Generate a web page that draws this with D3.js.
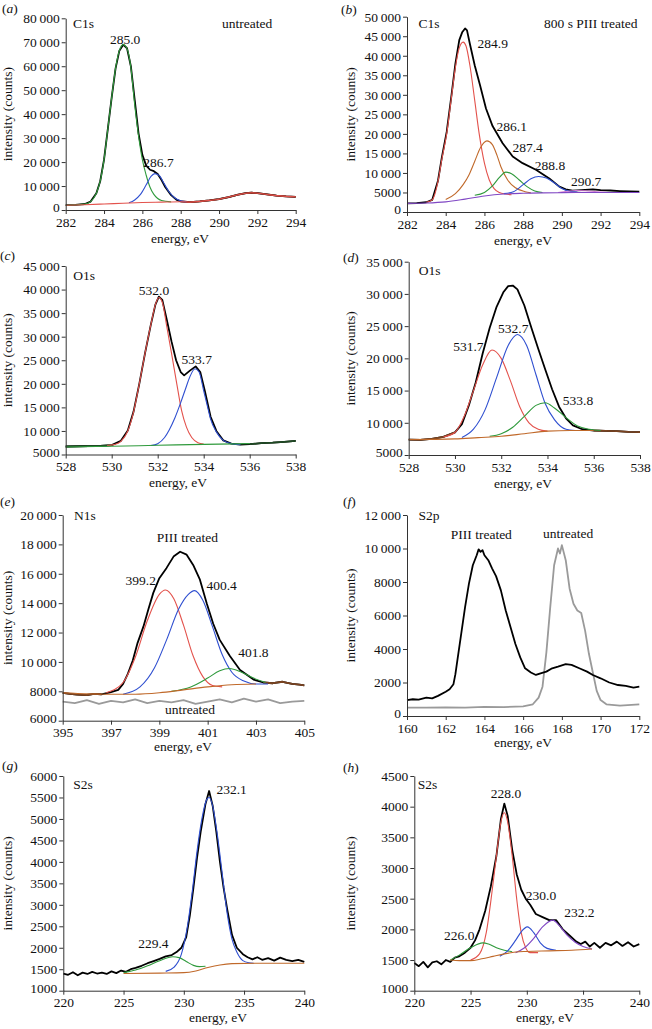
<!DOCTYPE html>
<html>
<head>
<meta charset="utf-8">
<script src="https://cdn.jsdelivr.net/npm/d3@7"></script>
<style>
body { margin: 0; background: #fff; }
svg text { font-family: "Liberation Serif", "Times New Roman", serif; font-size: 13.5px; fill: #111; }
</style>
</head>
<body>
<svg width="652" height="1029"></svg>
<script>
// ---- (a) C1s untreated ----
var aData = [[282,2000],[282.5,2150],[283,2500],[283.3,3500],[283.6,7000],[283.8,12000],[284,21000],[284.2,34000],[284.4,47000],[284.6,59000],[284.8,66500],[285,69000],[285.2,67500],[285.4,60000],[285.6,46000],[285.8,32000],[286,23000],[286.2,18500],[286.4,16800],[286.6,16200],[286.8,15000],[287,12500],[287.2,9500],[287.5,6200],[287.8,4200],[288,3600],[288.5,3300],[289,3600],[289.5,4000],[290,4500],[290.5,5400],[291,6400],[291.4,7000],[291.7,7200],[292,7000],[292.5,6500],[293,6000],[293.5,5700],[294,5500]];
var aPeak285 = [[282,2000],[283,2500],[283.3,3500],[283.6,7000],[283.8,12000],[284,21000],[284.2,34000],[284.4,47000],[284.6,59000],[284.8,66500],[285,69000],[285.2,67300],[285.4,59500],[285.6,44000],[285.8,31000],[286,21000],[286.2,14500],[286.4,9500],[286.6,6500],[286.8,4800],[287,4000],[287.5,3400]];
var aPeak287 = [[285.3,3000],[285.6,4200],[285.9,6500],[286.2,10500],[286.45,14000],[286.65,15200],[286.9,14200],[287.1,11500],[287.4,7500],[287.7,5000],[288,3800],[288.3,3400]];
var aBack = [[282,2000],[283,2200],[284,2500],[285,2800],[286,3100],[287,3300],[288,3450],[288.5,3300],[289,3600],[289.5,4000],[290,4500],[290.5,5400],[291,6400],[291.4,7000],[291.7,7200],[292,7000],[292.5,6500],[293,6000],[293.5,5700],[294,5500]];
var aXTicks = [282,284,286,288,290,292,294];
var aYTicks = [0,10000,20000,30000,40000,50000,60000,70000,80000];

// ---- (b) C1s 800 s PIII treated ----
var bData = [[282,2200],[282.5,2250],[283,2500],[283.3,3100],[283.6,8000],[283.8,14000],[284.05,20500],[284.3,30000],[284.5,38000],[284.7,44000],[284.85,46000],[285,47000],[285.1,46500],[285.25,43000],[285.5,37500],[285.77,32500],[286.08,26500],[286.42,22000],[286.94,17600],[287.46,14200],[287.97,12500],[288.66,10800],[289.35,8600],[289.87,6500],[290.2,5800],[290.55,5450],[291,5600],[291.6,5800],[292,5600],[292.5,5500],[293,5350],[293.5,5250],[294,5200]];
var bPeak2849 = [[283,2500],[283.3,3100],[283.6,7800],[283.8,13500],[284.05,20000],[284.3,29500],[284.5,37000],[284.7,42000],[284.9,43500],[285.05,42500],[285.25,37500],[285.5,28500],[285.73,20000],[286,12500],[286.25,8200],[286.5,6000],[286.77,5000],[287.1,4600],[287.4,4400]];
var bPeak2861 = [[284,3200],[284.5,4700],[284.9,7000],[285.2,9500],[285.5,13000],[285.8,16500],[286.13,18200],[286.4,17300],[286.65,14500],[286.85,11600],[287.2,8200],[287.6,6200],[288.1,5200],[288.4,4900]];
var bPeak2874 = [[285.5,4300],[286,5000],[286.4,6600],[286.8,9000],[287.1,10200],[287.4,9800],[287.8,8200],[288.2,6500],[288.6,5400],[289,5000]];
var bPeak2888 = [[287,4700],[287.5,5200],[288,7000],[288.4,8500],[288.8,9100],[289.2,8700],[289.6,7500],[290,6000],[290.4,5300],[290.8,5100]];
var bPeak2907 = [[289.8,5000],[290.3,5300],[290.7,5500],[291.2,5450],[291.8,5200],[292.3,5050]];
var bBack = [[282,2200],[283,2300],[284,2600],[285,3300],[286,4100],[287,4600],[288,4800],[289,4900],[290,4950],[292,5000],[294,5000]];
var bXTicks = [282,284,286,288,290,292,294];
var bYTicks = [0,5000,10000,15000,20000,25000,30000,35000,40000,45000,50000];

// ---- (c) O1s untreated ----
var cData = [[528,6700],[528.5,6750],[529,6800],[529.5,6850],[530,7000],[530.4,7900],[530.7,10100],[530.95,14100],[531.2,20000],[531.45,26500],[531.7,32500],[531.9,36800],[532.05,38500],[532.2,37800],[532.4,33500],[532.6,29000],[532.8,25000],[533,22500],[533.15,21800],[533.4,22800],[533.65,23700],[533.85,22500],[534.05,18500],[534.3,13000],[534.55,10000],[534.85,8000],[535.2,7300],[535.6,7100],[536,7200],[536.5,7400],[537,7500],[537.5,7700],[538,7900]];
var cPeak532 = [[529.8,6900],[530.1,7100],[530.4,7800],[530.7,10000],[530.95,14000],[531.2,20000],[531.45,26500],[531.7,32500],[531.9,36800],[532.05,38300],[532.2,37300],[532.4,32000],[532.6,26500],[532.83,20000],[533.04,14300],[533.25,10800],[533.48,8600],[533.75,7500],[534,7200]];
var cPeak5337 = [[531.7,6900],[532,7300],[532.3,8600],[532.5,10200],[532.75,12800],[533,16000],[533.2,18800],[533.4,21500],[533.62,23200],[533.8,22500],[534,18500],[534.15,15500],[534.3,12500],[534.55,9800],[534.85,8000],[535.3,7200],[535.6,7100]];
var cBack = [[528,6600],[530,6750],[532,6950],[534,7150],[536,7300]];
var cXTicks = [528,530,532,534,536,538];
var cYTicks = [5000,10000,15000,20000,25000,30000,35000,40000,45000];

// ---- (d) O1s treated ----
var dData = [[528,7400],[528.5,7350],[529,7500],[529.5,7800],[530,8500],[530.3,9800],[530.6,12700],[530.9,16300],[531.2,20800],[531.5,24700],[531.8,28000],[532.1,30300],[532.3,31200],[532.5,31300],[532.7,30700],[533,28200],[533.3,24800],[533.6,21500],[533.9,18300],[534.2,15200],[534.5,12500],[534.8,10700],[535.1,9600],[535.5,9000],[536,8800],[536.5,8750],[537,8700],[537.5,8600],[538,8550]];
var dPeak5317 = [[529.5,7800],[530,8500],[530.4,11000],[530.8,15000],[531.2,19000],[531.6,21300],[532,20000],[532.4,16500],[532.8,12500],[533.2,10000],[533.6,9000],[534,8700]];
var dPeak5327 = [[530.3,7700],[530.8,9000],[531.3,12000],[531.8,17000],[532.3,22000],[532.7,23700],[533.1,22000],[533.5,17500],[533.9,13000],[534.3,10500],[534.8,9000],[535.2,8800]];
var dPeak5338 = [[531.5,7900],[532,8300],[532.5,9300],[533,11000],[533.5,12700],[533.9,13100],[534.3,12300],[534.8,10800],[535.3,9500],[535.8,9000],[536.3,8800]];
var dBack = [[528,7400],[530,7500],[531,7700],[532,7900],[533,8300],[534,8700],[535,8800],[536,8800]];
var dXTicks = [528,530,532,534,536,538];
var dYTicks = [5000,10000,15000,20000,25000,30000,35000];

// ---- (e) N1s ----
var eData = [[395,7900],[395.3,7820],[395.6,7780],[396,7750],[396.3,7830],[396.6,7800],[397,7950],[397.3,8100],[397.5,8500],[397.7,9200],[397.9,10100],[398.1,11300],[398.34,12400],[398.55,13600],[398.75,14700],[399,15700],[399.3,16400],[399.6,17200],[399.86,17500],[400.13,17300],[400.4,16600],[400.68,15600],[400.96,14000],[401.23,12600],[401.5,11500],[401.92,10400],[402.34,9450],[402.9,8800],[403.3,8600],[403.7,8550],[404.1,8650],[404.5,8500],[404.8,8450],[405,8400]];
var ePeak3992 = [[396.8,7900],[397.5,8600],[398,10300],[398.5,12800],[399,14600],[399.25,14900],[399.6,14300],[400,12500],[400.4,10400],[400.8,9000],[401.2,8400],[401.6,8300]];
var ePeak4004 = [[397.5,7800],[398.2,8300],[398.8,9600],[399.3,11500],[399.8,13600],[400.2,14600],[400.45,14850],[400.8,14200],[401.2,12400],[401.6,10500],[402,9300],[402.5,8700],[403,8500],[403.5,8500]];
var ePeak4018 = [[399.5,8000],[400.3,8300],[401,8900],[401.5,9400],[401.9,9550],[402.4,9300],[402.9,8900],[403.4,8600]];
var eBack = [[395,7900],[397,7800],[398,7800],[399,7900],[400,8100],[401,8300],[402,8450],[403,8500]];
var eUntreated = [[395,7300],[395.5,7200],[396,7400],[396.5,7150],[397,7350],[397.5,7250],[398,7450],[398.5,7200],[399,7350],[399.5,7250],[400,7400],[400.5,7150],[401,7300],[401.5,7450],[402,7250],[402.5,7500],[403,7300],[403.5,7450],[404,7200],[404.5,7300],[405,7350]];
var eXTicks = [395,397,399,401,403,405];
var eYTicks = [6000,8000,10000,12000,14000,16000,18000,20000];

// ---- (f) S2p ----
var fTreated = [[160,950],[160.3,1000],[160.6,980],[161,1100],[161.3,1050],[161.6,1200],[162,1450],[162.2,1600],[162.4,1900],[162.5,2500],[162.6,3300],[162.8,4900],[163,6500],[163.2,7900],[163.4,9000],[163.6,9600],[163.7,9950],[163.8,9800],[163.9,9900],[164,9600],[164.2,9300],[164.4,8800],[164.6,8350],[164.85,7500],[165.1,6300],[165.35,5300],[165.6,4300],[165.85,3500],[166.1,2850],[166.4,2600],[166.66,2450],[166.9,2550],[167.2,2650],[167.5,2850],[167.8,2950],[168.2,3100],[168.5,3050],[168.9,2850],[169.3,2650],[169.6,2450],[170,2250],[170.45,2000],[170.9,1850],[171.3,1800],[171.7,1700],[172,1750]];
var fUntreated = [[160,500],[161,500],[162,520],[163,500],[164,540],[165,530],[166,580],[166.5,700],[166.8,1100],[167,1750],[167.2,3800],[167.4,6500],[167.6,9000],[167.8,10000],[167.9,9700],[168,10200],[168.2,9300],[168.4,7600],[168.6,6700],[168.8,6300],[169,6150],[169.2,5100],[169.4,3700],[169.6,2600],[169.8,1500],[170,950],[170.3,700],[171,620],[172,700]];
var fXTicks = [160,162,164,166,168,170,172];
var fYTicks = [0,2000,4000,6000,8000,10000,12000];

// ---- (g) S2s untreated ----
var gData = [[220,1400],[220.4,1370],[220.8,1430],[221.2,1360],[221.6,1420],[222,1390],[222.4,1440],[222.8,1400],[223.2,1420],[223.6,1390],[224,1450],[224.4,1410],[224.8,1470],[225.2,1440],[225.6,1500],[226,1530],[226.5,1580],[227,1640],[227.5,1690],[228,1740],[228.5,1800],[229,1830],[229.4,1900],[229.8,2000],[230.2,2250],[230.5,2750],[230.8,3400],[231.1,4100],[231.4,4700],[231.8,5350],[232.1,5650],[232.4,5300],[232.7,4700],[233,4000],[233.3,3400],[233.6,2900],[234,2300],[234.4,2000],[234.9,1850],[235.3,1780],[235.7,1730],[236.1,1780],[236.5,1720],[237,1760],[237.5,1700],[238,1770],[238.5,1720],[239,1690],[239.5,1720],[240,1670]];
var gPeak2321 = [[228.5,1450],[229.2,1550],[229.8,1850],[230.3,2500],[230.7,3300],[231.1,4250],[231.5,5000],[231.9,5450],[232.1,5500],[232.4,5300],[232.8,4600],[233.2,3700],[233.6,2800],[234,2200],[234.4,1900],[234.9,1700],[235.4,1650],[235.8,1640]];
var gPeak2294 = [[225,1420],[226,1480],[227,1580],[228,1700],[229.1,1790],[229.6,1770],[230.2,1680],[230.8,1590],[231.3,1560],[231.8,1570]];
var gBack = [[225,1400],[228,1410],[230,1420],[231,1460],[232,1540],[233,1600],[234,1630],[236,1640],[240,1640]];
var gXTicks = [220,225,230,235,240];
var gYTicks = [1000,1500,2000,2500,3000,3500,4000,4500,5000,5500,6000];

// ---- (h) S2s treated ----
var hData = [[220,1450],[220.4,1400],[220.8,1470],[221.2,1380],[221.6,1460],[222,1480],[222.4,1430],[222.8,1500],[223.2,1470],[223.6,1540],[224,1560],[224.5,1620],[225,1700],[225.4,1820],[225.8,2000],[226.3,2300],[226.8,2700],[227.3,3200],[227.7,3800],[228,4050],[228.3,3850],[228.7,3300],[229.1,2900],[229.5,2650],[229.9,2500],[230.3,2400],[230.8,2250],[231.4,2200],[232,2150],[232.6,2150],[233.2,2000],[233.8,1900],[234.4,1800],[234.8,1760],[235.2,1800],[235.6,1720],[236,1780],[236.5,1700],[237,1780],[237.5,1740],[238,1800],[238.5,1730],[239,1790],[239.5,1720],[240,1760]];
var hPeak228 = [[225,1500],[225.8,1600],[226.4,1950],[226.9,2600],[227.3,3200],[227.7,3750],[228,3900],[228.3,3750],[228.7,3200],[229.1,2500],[229.5,1950],[229.9,1700],[230.3,1620],[231,1620]];
var hPeak226 = [[223.2,1500],[224,1580],[225,1700],[226.1,1780],[226.6,1760],[227.3,1700],[228,1660],[228.7,1635]];
var hPeak230 = [[227.6,1560],[228.3,1650],[229,1820],[229.5,1960],[230.05,2040],[230.6,1950],[231.2,1780],[231.8,1690],[232.6,1660]];
var hPeak2322 = [[229,1620],[229.8,1700],[230.6,1850],[231.4,2040],[232.3,2150],[232.9,2060],[233.6,1900],[234.3,1790],[235,1720],[235.8,1680]];
var hBack = [[223.2,1500],[224,1490],[225,1490],[226,1520],[227,1560],[228,1600],[229,1630],[230,1640],[232,1650],[234,1660],[235.8,1680]];
var hXTicks = [220,225,230,235,240];
var hYTicks = [1000,1500,2000,2500,3000,3500,4000,4500];

var RED = "#e3524c", BLUE = "#2f4fd0", GREEN = "#2f9a3c", BROWN = "#c0692a",
    PURPLE = "#8048c4", PINK = "#d27ad2", GREY = "#9a9a9a";
var DARKRED = "#7a2a1c", DARKGREEN = "#1f4a24", DARKBROWN = "#7a4320";

// each line: [data, colour, width, smooth?, optional energy window]
// layout: box = [left, right, top, bottom] of each plot area in pixels
var panels = [
    { tag: "a", box: [65.7, 295.7, 18.3, 210], x: [282, 294], y: [0, 80000], xt: aXTicks, yt: aYTicks,
      letter: [2, 13], titleX: 180, titleDy: 33,
      lines: [[aData, "#000", 1.8, 0], [aData, DARKRED, 1.8, 0, [288, 294]], [aPeak285, GREEN, 1.1, 1], [aPeak287, BLUE, 1.1, 1], [aBack, RED, 1.1, 1]],
      labels: [["C1s", 282.38, 75960, "start"], ["untreated", 290.15, 76000, "start"], ["285.0", 285.1, 69280, "middle"], ["286.7", 286.84, 17950, "middle"]] },
    { tag: "b", box: [407, 639.3, 16.7, 212], x: [282, 294], y: [0, 50000], xt: bXTicks, yt: bYTicks,
      letter: [341, 14], titleX: 523, titleDy: 33,
      lines: [[bData, "#000", 1.8, 0], [bPeak2849, RED, 1.1, 1], [bPeak2861, BROWN, 1.1, 1], [bPeak2874, GREEN, 1.1, 1],
              [bPeak2888, BLUE, 1.1, 1], [bPeak2907, PINK, 1.1, 1], [bBack, PURPLE, 1.1, 1]],
      labels: [["C1s", 282.6, 47100, "start"], ["800 s PIII treated", 289.08, 47100, "start"], ["284.9", 286.43, 41900, "middle"],
               ["286.1", 287.41, 20800, "middle"], ["287.4", 288.23, 15440, "middle"], ["288.8", 289.39, 10750, "middle"], ["290.7", 291.25, 6650, "middle"]] },
    { tag: "c", box: [65.7, 295.7, 266, 454.5], x: [528, 538], y: [5000, 45000], xt: cXTicks, yt: cYTicks,
      letter: [0, 260], titleX: 178, titleDy: 32.5,
      lines: [[cData, "#000", 1.8, 0], [cData, DARKGREEN, 1.8, 0, [528, 530.2]], [cData, DARKGREEN, 1.8, 0, [535.8, 538]],
              [cPeak532, RED, 1.1, 1], [cPeak5337, BLUE, 1.1, 1], [cBack, GREEN, 1.1, 1]],
      labels: [["O1s", 528.33, 42000, "start"], ["532.0", 531.84, 38800, "middle"], ["533.7", 533.7, 24200, "middle"]] },
    { tag: "d", box: [408.7, 640, 261.7, 455], x: [528, 538], y: [5000, 35000], xt: dXTicks, yt: dYTicks,
      letter: [343, 262], titleX: 523, titleDy: 32.5,
      lines: [[dData, "#000", 1.8, 0], [dData, DARKBROWN, 1.8, 0, [528, 530]], [dData, DARKBROWN, 1.8, 0, [536, 538]],
              [dPeak5317, RED, 1.1, 1], [dPeak5327, BLUE, 1.1, 1], [dPeak5338, GREEN, 1.1, 1], [dBack, BROWN, 1.1, 1]],
      labels: [["O1s", 528.43, 32940, "start"], ["532.7", 532.52, 23890, "middle"], ["531.7", 530.58, 21190, "middle"], ["533.8", 535.32, 12760, "middle"]] },
    { tag: "e", box: [62.7, 304.3, 515, 720.7], x: [395, 405], y: [6000, 20000], xt: eXTicks, yt: eYTicks,
      letter: [0, 506], titleX: 183, titleDy: 30.5,
      lines: [[eUntreated, GREY, 1.8, 0], [eData, "#000", 1.8, 0], [eData, DARKBROWN, 1.8, 0, [395, 396.8]], [eData, DARKBROWN, 1.8, 0, [403.3, 405]],
              [ePeak3992, RED, 1.1, 1], [ePeak4004, BLUE, 1.1, 1], [ePeak4018, GREEN, 1.1, 1], [eBack, BROWN, 1.1, 1]],
      labels: [["N1s", 395.47, 19660, "start"], ["PIII treated", 400.16, 18190, "middle"], ["399.2", 398.23, 15220, "middle"],
               ["400.4", 401.58, 14900, "middle"], ["401.8", 402.89, 10320, "middle"], ["untreated", 400.27, 6460, "middle"]] },
    { tag: "f", box: [407, 639.3, 515, 716], x: [160, 172], y: [0, 12000], xt: fXTicks, yt: fYTicks,
      letter: [343, 506], titleX: 523, titleDy: 30.5,
      lines: [[fUntreated, GREY, 1.8, 0], [fTreated, "#000", 1.8, 0]],
      labels: [["S2p", 160.6, 11700, "start"], ["PIII treated", 163.84, 10550, "middle"], ["untreated", 168.32, 10610, "middle"]] },
    { tag: "g", box: [63.3, 304.3, 776, 990.7], x: [220, 240], y: [1000, 6000], xt: gXTicks, yt: gYTicks,
      letter: [2, 770], titleX: 218, titleDy: 31.5,
      lines: [[gData, "#000", 1.8, 0], [gPeak2321, BLUE, 1.1, 1], [gPeak2294, GREEN, 1.1, 1], [gBack, BROWN, 1.1, 1]],
      labels: [["S2s", 220.83, 5690, "start"], ["232.1", 233.97, 5574, "middle"], ["229.4", 227.47, 1987, "middle"]] },
    { tag: "h", box: [414.3, 639.3, 776, 990.7], x: [220, 240], y: [1000, 4500], xt: hXTicks, yt: hYTicks,
      letter: [343, 772], titleX: 545, titleDy: 31.5,
      lines: [[hData, "#000", 1.8, 0], [hPeak228, RED, 1.1, 1], [hPeak226, GREEN, 1.1, 1], [hPeak230, BLUE, 1.1, 1], [hPeak2322, PURPLE, 1.1, 1], [hBack, BROWN, 1.1, 1]],
      labels: [["S2s", 220.3, 4282, "start"], ["228.0", 228.15, 4135, "middle"], ["230.0", 231.26, 2478, "middle"], ["232.2", 234.67, 2196, "middle"], ["226.0", 224.0, 1826, "middle"]] }
];

// 5-digit numbers get a thin space, as in the journal style
function fmt(v) {
    var s = String(v);
    if (v >= 10000) s = s.slice(0, -3) + "\u2009" + s.slice(-3);
    return s;
}

function main() {
    var svg = d3.select("svg");

    panels.forEach(function (p) {
        var x = d3.scaleLinear().domain(p.x).range([p.box[0], p.box[1]]);
        var y = d3.scaleLinear().domain(p.y).range([p.box[3], p.box[2]]);
        var g = svg.append("g").attr("class", "panel-" + p.tag);

        p.lines.forEach(function (l) {
            var pts = l[0];
            if (l[4]) {
                pts = pts.filter(function (d) { return d[0] >= l[4][0] && d[0] <= l[4][1]; });
            }
            var line = d3.line()
                .x(function (d) { return x(d[0]); })
                .y(function (d) { return y(d[1]); })
                .curve(l[3] ? d3.curveMonotoneX : d3.curveLinear);
            g.append("path")
                .attr("d", line(pts))
                .attr("fill", "none")
                .attr("stroke", l[1])
                .attr("stroke-width", l[2])
                .attr("stroke-linejoin", "round");
        });

        var xAxis = g.append("g")
            .attr("transform", "translate(0," + p.box[3] + ")")
            .call(d3.axisBottom(x).tickValues(p.xt).tickSize(4).tickPadding(3).tickSizeOuter(0).tickFormat(fmt));
        var yAxis = g.append("g")
            .attr("transform", "translate(" + p.box[0] + ",0)")
            .call(d3.axisLeft(y).tickValues(p.yt).tickSize(4).tickPadding(2).tickSizeOuter(0).tickFormat(fmt));
        [xAxis, yAxis].forEach(function (a) {
            a.select(".domain").attr("stroke", "#333");
            a.selectAll(".tick line").attr("stroke", "#333");
            a.selectAll("text").attr("font-family", null).attr("font-size", null);
        });
        // lift the bottom y label a little so it clears the first x label
        yAxis.selectAll(".tick text")
            .filter(function (d) { return d === p.y[0]; })
            .attr("dy", "0.12em");

        // axis titles
        g.append("text")
            .attr("x", p.titleX)
            .attr("y", p.box[3] + p.titleDy)
            .attr("text-anchor", "middle")
            .text("energy, eV");
        var tx = p.box[0] < 200 ? 11.5 : 354.5;
        g.append("text")
            .attr("transform", "translate(" + tx + "," + (p.box[2] + p.box[3]) / 2 + ") rotate(-90)")
            .attr("text-anchor", "middle")
            .text("intensity (counts)");

        // panel letter
        var lt = g.append("text").attr("x", p.letter[0]).attr("y", p.letter[1]);
        lt.append("tspan").text("(");
        lt.append("tspan").style("font-style", "italic").text(p.tag);
        lt.append("tspan").text(")");

        p.labels.forEach(function (t) {
            g.append("text")
                .attr("x", x(t[1]))
                .attr("y", y(t[2]))
                .attr("text-anchor", t[3])
                .text(t[0]);
        });
    });
}
main();
</script>
</body>
</html>
